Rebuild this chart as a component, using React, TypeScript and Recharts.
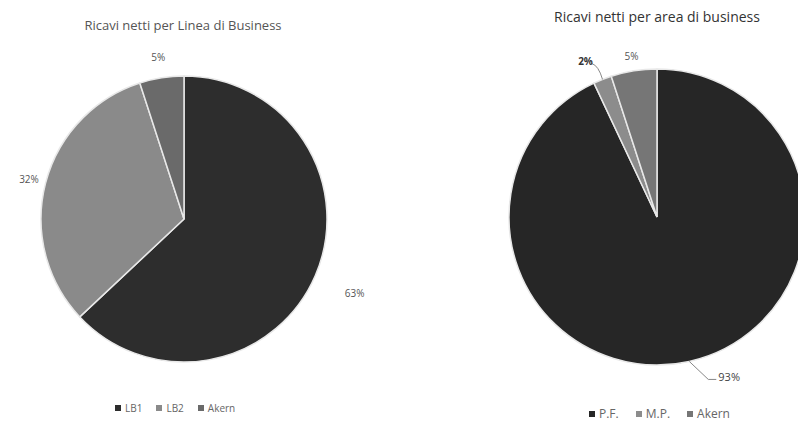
import { PieChart, Pie, Cell } from "recharts"

const lineNames = ["LB1", "LB2", "Akern"]
const lineValues = [63, 32, 5]

const areaNames = ["P.F.", "M.P.", "Akern"]
const areaValues = [93, 2, 5]

const LINE_COLORS = ["#2d2d2d", "#8a8a8a", "#6a6a6a"]
const AREA_COLORS = ["#262626", "#8c8c8c", "#767676"]

// label distance from the centre, per slice
const LINE_LABEL_R = [186, 160, 164]
const AREA_LABEL_R = [178, 172, 163]

const RAD = Math.PI / 180

const lineData = lineNames.map((name, i) => ({ name, value: lineValues[i] }))
const areaData = areaNames.map((name, i) => ({ name, value: areaValues[i] }))

function leftLabel(props: any) {
  const { cx, cy, midAngle, index, value } = props
  const r = LINE_LABEL_R[index]
  const x = cx + r * Math.cos(-midAngle * RAD)
  const y = cy + r * Math.sin(-midAngle * RAD)
  return (
    <text x={x} y={y} fill="#555" fontSize={10} textAnchor="middle" dominantBaseline="central">
      {value}%
    </text>
  )
}

function rightLabel(props: any) {
  const { cx, cy, midAngle, outerRadius, index, value } = props
  const cos = Math.cos(-midAngle * RAD)
  const sin = Math.sin(-midAngle * RAD)
  const r = AREA_LABEL_R[index]
  const ex = cx + outerRadius * cos
  const ey = cy + outerRadius * sin
  if (index === 0) {
    // leader line down-right, then text
    const mx = ex + 19
    const my = ey + 18
    return (
      <g>
        <path d={`M${ex},${ey} L${mx},${my} L${mx + 8},${my}`} stroke="#888" fill="none" strokeWidth={1} />
        <text x={mx + 10} y={my - 3} fill="#444" fontSize={11} dominantBaseline="central">
          {value}%
        </text>
      </g>
    )
  }
  if (index === 1) {
    return (
      <g>
        <path
          d={`M${ex},${ey} Q${ex - 4},${ey - 14} ${ex - 11},${ey - 16}`}
          stroke="#888"
          fill="none"
          strokeWidth={1}
        />
        <text x={ex - 17} y={ey - 18} fill="#333" fontSize={10} fontWeight="bold" textAnchor="middle" dominantBaseline="central">
          {value}%
        </text>
      </g>
    )
  }
  const x = cx + r * cos
  const y = cy + r * sin
  return (
    <text x={x} y={y} fill="#555" fontSize={10} textAnchor="middle" dominantBaseline="central">
      {value}%
    </text>
  )
}

function LegendRow({ names, colors, left, top, fontSize, gap }: any) {
  return (
    <div
      style={{
        position: "absolute",
        left,
        top,
        display: "flex",
        alignItems: "center",
        fontSize,
        lineHeight: `${fontSize + 2}px`,
        color: "#666",
        fontFamily: "'Open Sans', sans-serif",
      }}
    >
      {names.map((n: string, i: number) => (
        <div key={n} style={{ display: "flex", alignItems: "center", marginRight: gap }}>
          <span style={{ width: 6, height: 6, background: colors[i], marginRight: 4, display: "inline-block" }} />
          <span>{n}</span>
        </div>
      ))}
    </div>
  )
}

export default function App() {
  return (
    <div
      style={{
        position: "absolute",
        left: 0,
        top: 0,
        width: 798,
        height: 421,
        background: "#fff",
        overflow: "hidden",
        fontFamily: "'Open Sans', sans-serif",
      }}
    >
      <div style={{ position: "absolute", left: 0, width: 366, top: 16, textAlign: "center", fontSize: 13, color: "#555" }}>
        Ricavi netti per Linea di Business
      </div>
      <div style={{ position: "absolute", left: 520, width: 274, top: 7, textAlign: "center", fontSize: 14, color: "#333" }}>
        Ricavi netti per area di business
      </div>

      <div style={{ position: "absolute", left: 0, top: 0 }}>
        <PieChart width={400} height={421}>
          <Pie
            data={lineData}
            dataKey="value"
            nameKey="name"
            cx={179}
            cy={214}
            outerRadius={143}
            startAngle={90}
            endAngle={-270}
            stroke="#e8e8e8"
            strokeWidth={1.5}
            label={leftLabel}
            labelLine={false}
            isAnimationActive={false}
          >
            {lineData.map((d, i) => (
              <Cell key={d.name} fill={LINE_COLORS[i]} />
            ))}
          </Pie>
        </PieChart>
      </div>

      <div style={{ position: "absolute", left: 400, top: 0 }}>
        <PieChart width={398} height={421}>
          <Pie
            data={areaData}
            dataKey="value"
            nameKey="name"
            cx={252}
            cy={212}
            outerRadius={148}
            startAngle={90}
            endAngle={-270}
            stroke="#e8e8e8"
            strokeWidth={1.5}
            label={rightLabel}
            labelLine={false}
            isAnimationActive={false}
          >
            {areaData.map((d, i) => (
              <Cell key={d.name} fill={AREA_COLORS[i]} />
            ))}
          </Pie>
        </PieChart>
      </div>

      <LegendRow names={lineNames} colors={LINE_COLORS} left={115} top={402} fontSize={10} gap={14} />
      <LegendRow names={areaNames} colors={AREA_COLORS} left={589} top={407} fontSize={12} gap={17} />
    </div>
  )
}
